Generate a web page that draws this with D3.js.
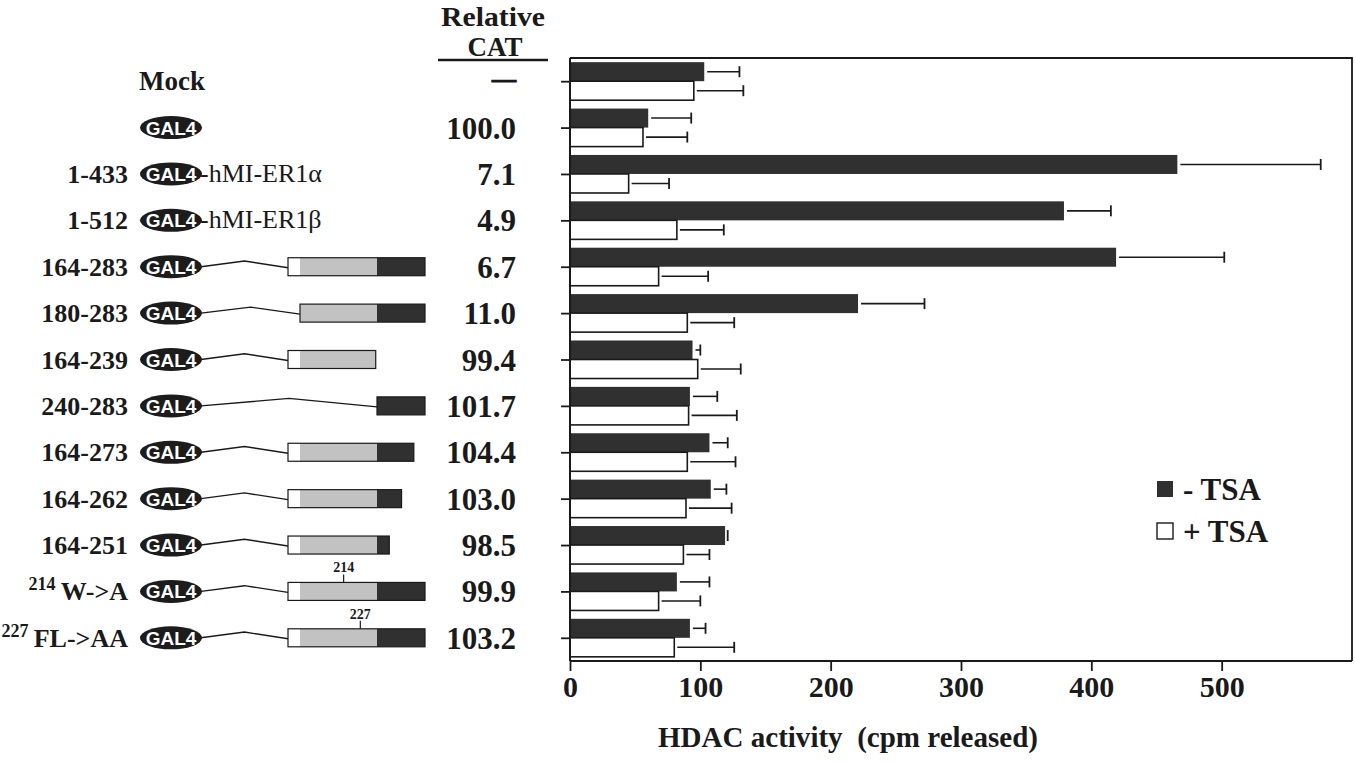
<!DOCTYPE html>
<html>
<head>
<meta charset="utf-8">
<script src="https://cdn.jsdelivr.net/npm/d3@7"></script>
<style>
  html, body { margin: 0; padding: 0; background: #fff; }
  svg { display: block; font-family: "Liberation Serif", "Times New Roman", serif; }
</style>
</head>
<body>
<svg id="chart" width="1355" height="762"></svg>
<script>
// ---- data ----------------------------------------------------------
const rowIds      = d3.range(13);
const rangeLabels = ["", "", "1-433", "1-512", "164-283", "180-283", "164-239",
                     "240-283", "164-273", "164-262", "164-251", "W->A", "FL->AA"];
const labelSup    = ["", "", "", "", "", "", "", "", "", "", "", "214", "227"];
const fusionText  = ["", "", "-hMI-ER1\u03b1", "-hMI-ER1\u03b2", "", "", "", "", "", "", "", "", ""];
const hasGal4     = [false, true, true, true, true, true, true, true, true, true, true, true, true];
const constructs  = [null, null, null, null, [164, 283], [180, 283], [164, 239],
                     [240, 283], [164, 273], [164, 262], [164, 251], [164, 283], [164, 283]];
const mutSite     = [null, null, null, null, null, null, null, null, null, null, null, 214, 227];
const domainBreaks = [164, 180, 240, 283];   // white | stippled | dark regions
const relativeCAT = ["\u2014", "100.0", "7.1", "4.9", "6.7", "11.0", "99.4",
                     "101.7", "104.4", "103.0", "98.5", "99.9", "103.2"];

// HDAC activity (cpm released), mean and SD
const minusTSA    = [103, 60, 466, 379, 419, 221, 94, 92, 107, 108, 119, 82, 92];
const minusTSAsd  = [27, 33, 110, 36, 83, 51, 6, 21, 14, 12, 2, 25, 12];
const plusTSA     = [95, 56, 45, 82, 68, 90, 98, 91, 90, 89, 87, 68, 80];
const plusTSAsd   = [38, 34, 31, 36, 38, 36, 33, 37, 37, 35, 20, 32, 46];
const xTicks      = [0, 100, 200, 300, 400, 500];
const seriesNames = ["- TSA", "+ TSA"];

// ---- layout --------------------------------------------------------
const svg = d3.select("#chart");
const DARK = "#303030", LIGHT = "#c2c2c2", INK = "#1a1a1a";

const plot = { left: 570, right: 1352, top: 58, bottom: 661 };

const x = d3.scaleLinear().domain([0, 600]).range([plot.left, plot.right]);
const y = d3.scaleBand().domain(rowIds).range([plot.top, plot.bottom])
            .paddingInner(0.18).paddingOuter(0.09);
const ySub = d3.scaleBand().domain(["minus", "plus"]).range([0, y.bandwidth()]);
const cy = i => y(i) + y.bandwidth() / 2;

// ---- bar panel -----------------------------------------------------
const barRows = rowIds.map(i => ({
  i,
  series: [
    { key: "minus", v: minusTSA[i], sd: minusTSAsd[i] },
    { key: "plus",  v: plusTSA[i],  sd: plusTSAsd[i] }
  ]
}));

const gBars = svg.append("g");
const grp = gBars.selectAll("g.row").data(barRows).join("g")
  .attr("class", "row")
  .attr("transform", d => `translate(0,${y(d.i)})`);

grp.selectAll("rect").data(d => d.series).join("rect")
  .attr("x", x(0))
  .attr("y", s => ySub(s.key))
  .attr("width", s => x(s.v) - x(0))
  .attr("height", ySub.bandwidth())
  .attr("fill", s => s.key === "minus" ? DARK : "#fff")
  .attr("stroke", s => s.key === "minus" ? "none" : INK)
  .attr("stroke-width", 1.6);

// error bars (upper side only)
const eb = grp.selectAll("g.err").data(d => d.series).join("g").attr("class", "err");
eb.append("line")
  .attr("x1", s => x(s.v) + 3)
  .attr("x2", s => x(s.v + s.sd))
  .attr("y1", s => ySub(s.key) + ySub.bandwidth() / 2)
  .attr("y2", s => ySub(s.key) + ySub.bandwidth() / 2)
  .attr("stroke", INK).attr("stroke-width", 1.6);
eb.append("line")
  .attr("x1", s => x(s.v + s.sd))
  .attr("x2", s => x(s.v + s.sd))
  .attr("y1", s => ySub(s.key) + ySub.bandwidth() / 2 - 5.5)
  .attr("y2", s => ySub(s.key) + ySub.bandwidth() / 2 + 5.5)
  .attr("stroke", INK).attr("stroke-width", 1.8);

// frame: top and right edges
svg.append("path")
  .attr("d", `M${plot.left},${plot.top}H${plot.right}V${plot.bottom}`)
  .attr("fill", "none").attr("stroke", INK).attr("stroke-width", 1.8);

// left axis with group ticks
const yAxis = d3.axisLeft(d3.scalePoint().domain(rowIds).range([cy(0), cy(12)]))
  .tickSize(9).tickFormat("");
svg.append("g").attr("transform", `translate(${plot.left},0)`).call(yAxis)
  .call(g => g.select(".domain").remove())
  .call(g => g.selectAll("line").attr("stroke", INK).attr("stroke-width", 1.8));
svg.append("line")
  .attr("x1", plot.left).attr("x2", plot.left)
  .attr("y1", plot.top).attr("y2", plot.bottom)
  .attr("stroke", INK).attr("stroke-width", 2);

// bottom axis
const xAxis = d3.axisBottom(x).tickValues(xTicks).tickSize(10).tickPadding(5)
  .tickSizeOuter(0);
svg.append("g").attr("transform", `translate(0,${plot.bottom})`).call(xAxis)
  .call(g => g.select(".domain").attr("stroke", INK).attr("stroke-width", 2.2)
                .attr("d", `M${plot.left},0H${plot.right}`))
  .call(g => g.selectAll(".tick line").attr("stroke", INK).attr("stroke-width", 1.8))
  .call(g => g.selectAll(".tick text")
                .attr("font-family", "Liberation Serif, serif")
                .attr("font-weight", "bold").attr("font-size", 30)
                .attr("fill", INK).attr("dy", "0.7em"));

svg.append("text")
  .attr("x", 848).attr("y", 747)
  .attr("text-anchor", "middle")
  .attr("font-weight", "bold").attr("font-size", 30).attr("fill", INK)
  .attr("textLength", 380).attr("lengthAdjust", "spacingAndGlyphs")
  .style("white-space", "pre")
  .text("HDAC activity  (cpm released)");

// legend
const legend = svg.append("g");
seriesNames.forEach((name, k) => {
  const ly = 490 + k * 42;
  legend.append("rect")
    .attr("x", 1157).attr("y", ly - 9).attr("width", 16).attr("height", 16)
    .attr("fill", k === 0 ? DARK : "#fff")
    .attr("stroke", k === 0 ? "none" : INK).attr("stroke-width", 1.4);
  legend.append("text")
    .attr("x", 1183).attr("y", ly + 10)
    .attr("font-weight", "bold").attr("font-size", 31).attr("fill", INK)
    .style("white-space", "pre")
    .text(name);
});

// ---- Relative CAT column ------------------------------------------
svg.append("text").attr("x", 493).attr("y", 26).attr("text-anchor", "middle")
  .attr("font-weight", "bold").attr("font-size", 27).attr("fill", INK)
  .attr("textLength", 104).attr("lengthAdjust", "spacingAndGlyphs").text("Relative");
svg.append("text").attr("x", 495).attr("y", 56).attr("text-anchor", "middle")
  .attr("font-weight", "bold").attr("font-size", 27).attr("fill", INK).text("CAT");
svg.append("line").attr("x1", 438).attr("x2", 548).attr("y1", 60).attr("y2", 60)
  .attr("stroke", INK).attr("stroke-width", 2.4);

svg.append("g").selectAll("text").data(rowIds).join("text")
  .attr("x", 516).attr("y", i => cy(i) + (i === 0 ? 6 : 11))
  .attr("text-anchor", "end")
  .attr("font-weight", "bold")
  .attr("font-size", i => i === 0 ? 24 : 31)
  .attr("stroke", i => i === 0 ? INK : "none")
  .attr("stroke-width", 1.2)
  .attr("fill", INK)
  .text(i => relativeCAT[i]);

// ---- construct diagrams -------------------------------------------
const gal4X = 171, gal4Rx = 31, gal4Ry = 11.5;
const res = d3.scaleLinear().domain(domainBreaks).range([288, 300, 377, 425]);
const segFill = ["#fff", LIGHT, DARK];

const rows = svg.append("g").selectAll("g").data(rowIds).join("g")
  .attr("transform", i => `translate(0,${cy(i)})`);

// Mock label
rows.filter(i => i === 0).append("text")
  .attr("x", gal4X + 1).attr("y", 9).attr("text-anchor", "middle")
  .attr("font-weight", "bold").attr("font-size", 27).attr("fill", INK)
  .text("Mock");

// range / mutation labels
const lab = rows.filter(i => rangeLabels[i] !== "").append("text")
  .attr("x", 128).attr("y", 9).attr("text-anchor", "end")
  .attr("font-size", 26).attr("fill", INK)
  .attr("font-weight", "bold");
lab.filter(i => labelSup[i]).append("tspan")
  .attr("font-size", 18).attr("dy", -10).text(i => labelSup[i]);
lab.append("tspan")
  .attr("dy", i => labelSup[i] ? 10 : 0)
  .text(i => labelSup[i] ? "\u2009" + rangeLabels[i] : rangeLabels[i]);

// linker from GAL4 to the construct
rows.filter(i => constructs[i]).append("path")
  .attr("d", i => {
    const x0 = gal4X + gal4Rx - 1, x1 = res(constructs[i][0]);
    const rise = 4 + (x1 - x0) * 0.02;
    return d3.line()([[x0, 0], [(x0 + x1) / 2, -rise], [x1, 1]]);
  })
  .attr("fill", "none").attr("stroke", INK).attr("stroke-width", 1.4);

// GAL4 DBD ellipse
const gal = rows.filter(i => hasGal4[i]);
gal.append("ellipse")
  .attr("cx", gal4X).attr("cy", 0).attr("rx", gal4Rx).attr("ry", gal4Ry)
  .attr("fill", "#1c1c1c");
gal.append("text")
  .attr("x", gal4X).attr("y", 7).attr("text-anchor", "middle")
  .attr("font-family", "Liberation Sans, Arial, sans-serif")
  .attr("font-weight", "bold").attr("font-size", 19).attr("fill", "#fff")
  .text("GAL4");

// fused full-length proteins
rows.filter(i => fusionText[i]).append("text")
  .attr("x", gal4X + gal4Rx - 2).attr("y", 8)
  .attr("font-size", 26).attr("fill", INK)
  .text(i => fusionText[i]);

// domain boxes
const boxH = 18;
rows.filter(i => constructs[i]).each(function (i) {
  const [s, e] = constructs[i];
  const g = d3.select(this);
  const segs = d3.range(domainBreaks.length - 1).map(k => ({
    a: Math.max(s, domainBreaks[k]), b: Math.min(e, domainBreaks[k + 1]), k
  })).filter(d => d.b > d.a);
  g.selectAll("rect.seg").data(segs).join("rect").attr("class", "seg")
    .attr("x", d => res(d.a)).attr("width", d => res(d.b) - res(d.a))
    .attr("y", -boxH / 2).attr("height", boxH)
    .attr("fill", d => segFill[d.k]);
  g.append("rect")
    .attr("x", res(s)).attr("width", res(e) - res(s))
    .attr("y", -boxH / 2).attr("height", boxH)
    .attr("fill", "none").attr("stroke", INK).attr("stroke-width", 1.2);
  if (mutSite[i]) {
    const mx = res(mutSite[i]);
    g.append("line").attr("x1", mx).attr("x2", mx)
      .attr("y1", -boxH / 2).attr("y2", -boxH / 2 - 8)
      .attr("stroke", INK).attr("stroke-width", 1.2);
    g.append("text").attr("x", mx).attr("y", -boxH / 2 - 10)
      .attr("text-anchor", "middle").attr("font-size", 14).attr("font-weight", "bold")
      .attr("fill", INK).text(mutSite[i]);
  }
});
</script>
</body>
</html>
